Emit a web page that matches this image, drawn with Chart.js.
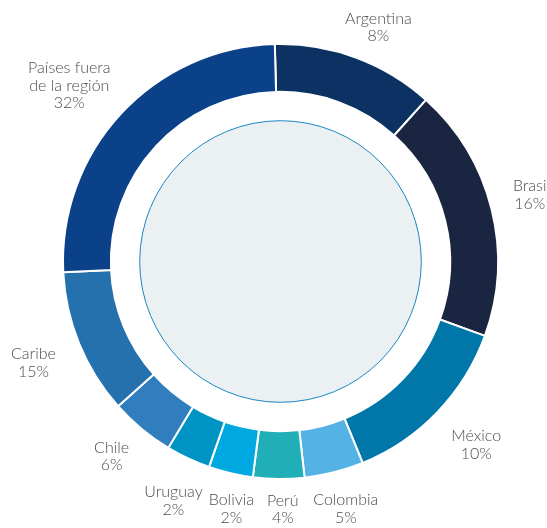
<!DOCTYPE html>
<html>
<head>
<meta charset="utf-8">
<script src="https://cdn.jsdelivr.net/npm/chart.js@4"></script>
<style>
  html, body { margin: 0; padding: 0; background: #fff; }
  #wrap { width: 547px; height: 528px; position: relative; }
</style>
</head>
<body>
<div id="wrap"><canvas id="ch_origin"></canvas></div>
<script>
// Categories, clockwise from the top
const countries = ['Argentina', 'Brasi', 'México', 'Colombia', 'Perú', 'Bolivia', 'Uruguay', 'Chile', 'Caribe', 'Países fuera\nde la región'];
// Printed percentages
const pctLabels = ['8%', '16%', '10%', '5%', '4%', '2%', '2%', '6%', '15%', '32%'];
// Slice sizes as drawn in the picture (share of the ring, %)
const sliceShares = [12.1, 18.9, 13.3, 4.4, 3.8, 3.3, 3.3, 4.8, 10.8, 25.4];
const sliceColors = ['#0b3262', '#1a2542', '#0076a9', '#55b2e4', '#21afb7', '#00a8e2', '#0094c5', '#307ebe', '#2571ae', '#0b4189'];

// label layout only: distance from centre and angle nudge (deg) per slice
const labelDist  = [254, 258, 268, 256, 248, 252, 262, 258, 267, 275];
const labelNudge = [2.4, -1, -0.8, -0.5, -1, -2, -1, 1.2, 0, -3];

const ringLabels = {
  id: 'ringLabels',
  beforeDatasetsDraw(chart) {
    // light disc inside the ring
    const arc = chart.getDatasetMeta(0).data[0];
    if (!arc) return;
    const { x, y, innerRadius } = arc.getProps(['x', 'y', 'innerRadius'], true);
    const ctx = chart.ctx;
    ctx.save();
    ctx.beginPath();
    ctx.arc(x, y, innerRadius * 0.83, 0, Math.PI * 2);
    ctx.fillStyle = '#ebf0f3';
    ctx.fill();
    ctx.lineWidth = 1;
    ctx.strokeStyle = '#1a87c0';
    ctx.stroke();
    ctx.restore();
  },
  afterDatasetsDraw(chart) {
    const ctx = chart.ctx;
    const meta = chart.getDatasetMeta(0);
    ctx.save();
    ctx.font = '300 16px Lato, "Open Sans", sans-serif';
    ctx.fillStyle = '#4d4d4d';
    ctx.textAlign = 'center';
    ctx.textBaseline = 'middle';
    meta.data.forEach((a, i) => {
      const { x, y, startAngle, endAngle } = a.getProps(['x', 'y', 'startAngle', 'endAngle'], true);
      const mid = (startAngle + endAngle) / 2 + labelNudge[i] * Math.PI / 180;
      const cx = x + Math.cos(mid) * labelDist[i];
      const cy = y + Math.sin(mid) * labelDist[i];
      const lines = countries[i].split('\n').concat(pctLabels[i]);
      const lh = 17.5;
      const top = cy - (lines.length - 1) * lh / 2;
      lines.forEach((t, k) => ctx.fillText(t, cx, top + k * lh));
    });
    ctx.restore();
  }
};

new Chart(document.getElementById('ch_origin').getContext('2d'), {
  type: 'doughnut',
  data: {
    labels: countries,
    datasets: [{
      data: sliceShares,
      backgroundColor: sliceColors,
      borderColor: '#ffffff',
      borderWidth: 2,
      hoverOffset: 0,
      offset: 0
    }]
  },
  options: {
    responsive: true,
    maintainAspectRatio: false,
    animation: false,
    rotation: -1.5,
    cutout: '78%',
    layout: { padding: { left: 62, top: 43, right: 48, bottom: 48 } },
    plugins: {
      legend: { display: false },
      tooltip: { enabled: false }
    }
  },
  plugins: [ringLabels]
});
</script>
</body>
</html>
